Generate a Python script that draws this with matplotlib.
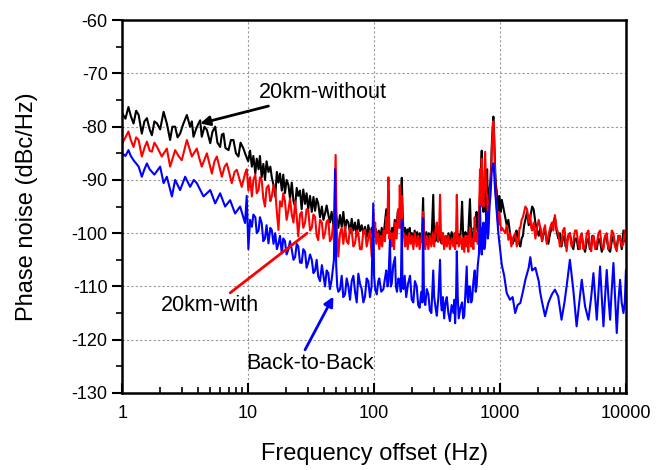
import numpy as np
import matplotlib.pyplot as plt
from matplotlib.ticker import MultipleLocator, LogLocator, NullFormatter

plt.rcParams['font.family'] = ['Liberation Sans', 'DejaVu Sans']
plt.rcParams['axes.unicode_minus'] = False

# values: (frequency offset Hz, phase noise dBc/Hz)
# 20km-without (black)
without_1_10 = [(1.0, -77.5), (1.06, -78.5), (1.12, -76.3), (1.17, -78.0), (1.23, -79.4), (1.29, -77.0),
                (1.35, -77.8), (1.43, -81.3), (1.5, -79.0), (1.57, -78.4), (1.65, -80.5), (1.72, -81.6),
                (1.8, -79.0), (1.89, -79.4), (2.0, -80.5), (2.13, -77.2), (2.26, -79.4), (2.4, -82.5),
                (2.5, -80.0), (2.63, -80.0), (2.75, -82.0), (2.88, -81.3), (3.05, -79.5), (3.26, -77.8),
                (3.46, -80.0), (3.57, -79.0), (3.68, -81.9), (3.85, -80.5), (4.03, -79.4), (4.16, -78.8),
                (4.28, -81.9), (4.5, -80.0), (4.7, -80.6), (5.0, -83.1), (5.2, -81.0), (5.47, -80.0),
                (5.7, -83.0), (5.99, -83.8), (6.18, -81.5), (6.37, -81.3), (6.6, -84.0), (6.98, -84.4),
                (7.3, -82.5), (7.64, -82.5), (8.0, -85.0), (8.37, -85.6), (8.7, -83.0), (9.17, -84.1),
                (9.45, -85.0)]
without_10_100 = [(10.0, -86.5), (10.35, -84.5), (10.7, -87.5), (11.0, -85.5), (11.4, -88.8), (11.7, -86.0),
                  (12.1, -88.0), (12.4, -85.5), (12.8, -89.5), (13.2, -87.0), (13.6, -90.0), (14.0, -86.5),
                  (14.5, -88.5), (15.0, -87.5), (15.4, -89.5), (15.9, -91.0), (16.4, -93.1), (16.9, -88.5),
                  (17.4, -90.5), (17.9, -88.8), (18.5, -92.0), (19.0, -89.0), (19.6, -92.5), (20.2, -90.0),
                  (20.9, -91.0), (21.5, -93.5), (22.2, -90.5), (22.9, -94.0), (23.6, -95.0), (24.3, -91.5),
                  (25, -93.0), (25.8, -92.0), (26.6, -95.5), (27.4, -91.8), (28.3, -94.5), (29.1, -92.5),
                  (30, -95.5), (31, -93.0), (32, -96.0), (33, -93.2), (34, -95.8), (35, -93.5), (36, -94.4),
                  (37.2, -97.0), (38.5, -95.0), (39.6, -97.5), (40.8, -96.3), (42, -94.8), (43.3, -96.5),
                  (44.6, -98.0), (46, -96.0), (47.5, -98.5), (49, -95.5), (50.5, -97.2), (52, -99.0),
                  (53.6, -96.6), (55.3, -98.8), (57, -96.0), (58.8, -99.4), (60.6, -97.5), (62.5, -98.0),
                  (64.4, -100.0), (66.4, -97.3), (68.5, -99.5), (70.6, -98.0), (72.8, -100.5), (75, -97.5),
                  (77.3, -99.6), (79.7, -98.5), (82.2, -100.2), (84.7, -98.8), (87.3, -100.8), (90, -98.5),
                  (92.8, -100.5), (95.7, -99.0), (98.5, -100.2)]
without_100_1000 = [(100, -100.5), (103, -99.2), (106, -101.0), (109, -99.5), (112, -101.2), (115, -99.0),
                    (118.6, -100.8), (122, -98.0), (125, -95.5), (128, -99.0), (130, -92.0), (132, -99.5),
                    (136, -100.8), (139, -99.0), (142, -101.0), (146, -97.5), (150, -100.0), (154, -96.0),
                    (158, -98.5), (162, -95.0), (166, -89.6), (169, -97.0), (172, -100.5), (176, -99.0),
                    (180, -101.0), (184, -99.3), (188, -100.8), (192, -99.0), (196, -101.3), (200, -100.0),
                    (205, -101.5), (210, -99.5), (215, -101.2), (220, -99.8), (225, -101.5), (231, -100.0),
                    (237, -101.6), (241, -99.5), (245, -93.4), (249, -100.5), (255, -101.5), (260, -99.8),
                    (265, -101.5), (272, -100.0), (280, -101.3), (288, -99.5), (295, -92.8), (300, -100.6),
                    (308, -101.5), (315, -99.8), (322, -101.6), (330, -100.2), (340, -101.8), (350, -100.0),
                    (360, -102.0), (370, -100.5), (380, -101.6), (390, -100.0), (400, -101.5), (413, -99.8),
                    (427, -101.4), (440, -100.0), (454, -101.9), (467, -100.2), (480, -101.5), (490, -99.0),
                    (500, -94.1), (510, -100.5), (520, -101.6), (532, -99.8), (544, -101.0), (560, -100.0),
                    (577, -93.6), (590, -100.5), (605, -101.2), (618, -99.0), (630, -100.5), (642, -97.0),
                    (652, -96.0), (665, -100.0), (680, -99.0), (690, -94.0), (700, -90.0), (716, -84.5),
                    (728, -94.0), (740, -96.0), (752, -91.0), (762, -92.0), (775, -97.0), (790, -88.0),
                    (800, -94.0), (810, -96.0), (825, -92.0), (840, -90.0), (852, -87.0), (862, -83.0),
                    (875, -80.0), (886, -78.1), (895, -80.5), (905, -84.0), (915, -88.0), (928, -91.0),
                    (941, -92.0), (955, -95.0), (970, -96.0), (985, -93.0), (1000, -94.0), (1015, -96.0),
                    (1034, -93.75)]
without_1000_10000 = [(1080, -96.0), (1131, -98.5), (1165, -97.5), (1200, -100.0), (1230, -101.5), (1260, -102.0),
                      (1290, -100.5), (1320, -101.5), (1350, -99.5), (1380, -100.0), (1415, -101.8), (1450, -102.5),
                      (1485, -101.0), (1520, -100.5), (1555, -98.5), (1590, -97.5), (1640, -96.0), (1690, -98.5),
                      (1740, -97.0), (1800, -95.0), (1850, -95.5), (1910, -98.0), (1970, -99.5), (2030, -100.5),
                      (2090, -99.0), (2160, -101.5), (2220, -100.0), (2280, -99.5), (2350, -101.5), (2420, -102.0),
                      (2500, -100.0), (2580, -99.0), (2650, -98.0), (2730, -97.0), (2810, -99.5), (2900, -101.0),
                      (2990, -100.0), (3080, -102.5), (3160, -101.0), (3250, -100.5), (3320, -102.5), (3380, -102.0),
                      (3480, -100.5), (3590, -100.0), (3700, -102.0), (3820, -103.0), (3940, -101.0), (4060, -101.0),
                      (4180, -103.0), (4300, -102.5), (4380, -100.5), (4460, -100.5), (4600, -102.5), (4740, -103.5),
                      (4890, -101.5), (5040, -101.0), (5170, -103.0), (5300, -102.5), (5410, -100.5), (5520, -100.5),
                      (5700, -102.5), (5870, -103.0), (6050, -101.0), (6230, -101.5), (6430, -103.5), (6630, -102.5),
                      (6830, -100.5), (7040, -101.0), (7260, -103.0), (7490, -103.5), (7720, -101.5), (7960, -100.5),
                      (8200, -102.5), (8460, -102.5), (8720, -100.5), (8990, -101.0), (9270, -103.0), (9560, -99.5),
                      (9780, -101.5), (10000, -101.5)]

# 20km-with (red)
with_1_10 = [(1.0, -83.1), (1.06, -82.0), (1.12, -80.9), (1.17, -82.5), (1.23, -83.8), (1.29, -82.0),
             (1.35, -82.5), (1.43, -85.6), (1.5, -84.0), (1.57, -82.8), (1.65, -84.5), (1.72, -84.7),
             (1.8, -83.0), (1.89, -83.8), (2.06, -85.6), (2.26, -84.1), (2.4, -87.5), (2.63, -84.4),
             (2.8, -85.5), (2.97, -86.3), (3.26, -82.5), (3.57, -85.6), (3.91, -84.1), (4.1, -86.0),
             (4.28, -87.5), (4.7, -85.0), (5.15, -88.8), (5.4, -86.5), (5.64, -85.6), (6.18, -89.4),
             (6.5, -87.5), (6.77, -86.9), (7.41, -90.6), (7.8, -88.5), (8.12, -88.1), (8.89, -91.3),
             (9.45, -88.8)]
with_10_100 = [(9.74, -88.0), (10.04, -92.0), (10.35, -89.5), (10.7, -93.1), (11.0, -90.0), (11.4, -89.0),
               (11.7, -92.5), (12.1, -91.9), (12.4, -89.5), (12.8, -90.0), (13.2, -93.5), (13.6, -95.0),
               (14.0, -91.5), (14.5, -91.0), (15.0, -94.0), (15.4, -93.1), (15.9, -91.0), (16.4, -92.0),
               (16.9, -96.0), (17.4, -99.4), (17.9, -94.0), (18.5, -95.0), (19.0, -92.5), (19.6, -94.0),
               (20.2, -97.5), (20.9, -95.6), (21.5, -93.5), (22.2, -96.5), (22.9, -98.0), (23.6, -94.0),
               (24.3, -97.0), (25, -100.6), (25.8, -96.5), (26.6, -96.0), (27.4, -99.0), (28.3, -98.0),
               (29.1, -95.5), (30, -95.6), (31, -99.5), (32, -99.0), (33, -96.5), (34, -97.0), (35, -100.5),
               (36, -101.3), (37.2, -97.5), (38.5, -98.0), (39.6, -101.0), (40.8, -100.0), (42, -97.8),
               (43.3, -97.5), (44.6, -101.5), (46, -101.0), (47.2, -98.5), (48, -99.0), (49.5, -85.3),
               (50.5, -99.0), (51.3, -102.0), (52, -104.4), (53.6, -100.0), (55.3, -99.0), (57, -102.0),
               (58.8, -98.8), (60.6, -101.5), (62.5, -102.0), (64.4, -99.0), (66.4, -99.5), (68.5, -102.5),
               (70.6, -101.9), (72.8, -99.5), (75, -100.0), (77.3, -103.0), (79.7, -103.0), (82.2, -99.5),
               (84.7, -99.4), (87.3, -102.5), (90, -101.0), (92.8, -99.5), (95.7, -104.4), (97.5, -101.0),
               (98.5, -96.0)]
with_100_1000 = [(100, -100.5), (102, -98.0), (104, -102.0), (107, -100.0), (110, -103.0), (113, -100.5),
                 (116, -102.5), (119, -99.5), (122, -101.5), (125, -97.0), (127, -100.0), (130, -89.5),
                 (132, -101.0), (135, -100.0), (138, -102.5), (141, -100.0), (144, -103.0), (147, -98.0),
                 (151, -101.0), (155, -95.5), (158, -99.0), (160, -91.0), (163, -99.0), (166, -93.0),
                 (169, -100.5), (172, -100.0), (176, -102.5), (180, -100.5), (185, -103.0), (190, -100.0),
                 (195, -102.0), (200, -100.5), (205, -103.0), (211, -100.0), (218, -102.5), (224, -100.5),
                 (230, -103.0), (237, -101.0), (242, -99.5), (245, -96.0), (250, -101.0), (255, -103.0),
                 (262, -100.5), (270, -103.0), (277, -100.5), (285, -102.5), (292, -100.0), (300, -102.5),
                 (307, -99.5), (315, -98.0), (322, -101.5), (328, -100.0), (334, -92.8), (340, -100.5),
                 (345, -102.0), (352, -100.0), (360, -103.0), (369, -100.5), (378, -102.5), (389, -100.5),
                 (400, -103.0), (413, -101.0), (427, -102.5), (434, -100.0), (440, -103.0), (447, -101.0),
                 (454, -92.8), (462, -101.0), (470, -102.5), (485, -100.5), (500, -103.0), (510, -101.0),
                 (520, -103.5), (532, -100.5), (544, -102.5), (552, -100.5), (560, -103.5), (568, -101.0),
                 (577, -99.0), (590, -102.5), (600, -101.0), (615, -103.0), (630, -97.0), (641, -101.5),
                 (652, -100.0), (666, -102.0), (680, -98.0), (687, -93.0), (694, -88.0), (705, -95.0),
                 (716, -86.0), (728, -93.0), (740, -95.0), (750, -90.0), (762, -84.7), (776, -92.0),
                 (790, -93.0), (800, -97.0), (810, -98.0), (825, -94.0), (840, -91.0), (852, -88.0),
                 (862, -84.0), (875, -81.0), (886, -79.0), (895, -81.0), (905, -85.0), (915, -90.0),
                 (928, -93.0), (941, -95.0), (955, -97.0), (970, -98.5), (985, -96.0), (1000, -97.0),
                 (1020, -99.5), (1040, -99.0)]
with_1000_10000 = [(1100, -100.0), (1130, -98.5), (1165, -101.25), (1200, -100.0), (1230, -102.5), (1270, -101.0),
                   (1320, -100.0), (1360, -102.5), (1400, -101.5), (1430, -99.0), (1450, -99.0), (1485, -97.5),
                   (1520, -97.0), (1555, -96.0), (1590, -95.0), (1640, -95.5), (1690, -98.0), (1740, -96.5),
                   (1770, -99.0), (1800, -99.5), (1850, -98.0), (1910, -101.0), (1970, -99.0), (2030, -97.5),
                   (2090, -99.0), (2160, -101.5), (2220, -99.5), (2280, -98.5), (2350, -102.0), (2420, -100.5),
                   (2500, -99.0), (2580, -98.0), (2650, -99.5), (2730, -96.6), (2810, -99.0), (2900, -100.0),
                   (2990, -102.5), (3080, -102.0), (3160, -99.5), (3250, -99.0), (3320, -101.5), (3380, -103.4),
                   (3480, -100.5), (3590, -100.0), (3700, -102.5), (3820, -101.5), (3940, -99.5), (4060, -99.5),
                   (4180, -102.0), (4300, -103.0), (4380, -100.5), (4460, -100.0), (4600, -103.0), (4740, -102.5),
                   (4890, -100.0), (5040, -99.5), (5170, -102.5), (5300, -103.4), (5410, -101.0), (5520, -100.5),
                   (5700, -103.0), (5870, -102.0), (6050, -100.0), (6230, -99.5), (6430, -102.5), (6630, -103.0),
                   (6830, -100.5), (7040, -100.0), (7260, -103.0), (7490, -102.5), (7720, -99.5), (7960, -100.0),
                   (8200, -102.5), (8460, -103.4), (8720, -100.5), (8990, -100.5), (9270, -102.5), (9560, -102.0),
                   (9780, -99.5), (10000, -100.0)]

# Back-to-Back (blue)
b2b_1_10 = [(1.0, -85.0), (1.06, -85.5), (1.12, -84.4), (1.17, -85.5), (1.23, -86.3), (1.35, -87.5),
            (1.43, -89.4), (1.5, -88.0), (1.57, -86.9), (1.65, -88.0), (1.8, -89.0), (2.0, -87.5),
            (2.13, -90.6), (2.26, -89.4), (2.48, -93.1), (2.63, -90.0), (2.88, -91.9), (3.16, -89.4),
            (3.46, -91.3), (3.7, -90.0), (3.91, -90.6), (4.42, -93.1), (5.0, -91.9), (5.47, -94.4),
            (5.99, -92.5), (6.56, -95.0), (7.19, -93.8), (7.87, -96.3), (8.63, -95.0), (9.45, -98.1)]
b2b_10_100 = [(9.74, -93.0), (10.04, -103.0), (10.35, -97.5), (10.7, -98.8), (11.0, -96.5), (11.4, -97.0),
              (11.7, -100.0), (12.1, -99.5), (12.4, -97.0), (12.8, -98.1), (13.2, -101.5), (13.6, -101.0),
              (14.0, -98.5), (14.5, -101.9), (15.0, -99.0), (15.4, -99.4), (15.9, -102.0), (16.4, -100.0),
              (16.9, -103.0), (17.4, -102.0), (17.9, -100.5), (18.5, -103.8), (19.0, -101.0), (19.6, -101.5),
              (20.2, -104.0), (20.9, -103.0), (21.5, -101.5), (22.2, -103.1), (22.9, -105.0), (23.6, -104.5),
              (24.3, -102.0), (25, -102.5), (25.8, -105.5), (26.6, -105.6), (27.4, -103.0), (28.3, -103.5),
              (29.1, -106.5), (30, -105.5), (31, -104.0), (32, -105.0), (33, -107.5), (34, -107.0),
              (35, -105.0), (36, -108.1), (37.2, -109.0), (38.5, -106.0), (39.6, -108.0), (40.8, -110.0),
              (42, -107.0), (43.3, -107.5), (44.6, -110.5), (46, -108.8), (47.2, -106.5), (48, -105.0),
              (49, -88.0), (50, -106.0), (51, -110.0), (52, -111.0), (53.6, -110.6), (55.3, -108.0),
              (57, -112.0), (58.8, -111.5), (60.6, -108.5), (62.5, -110.0), (64.4, -112.5), (66.4, -109.0),
              (68.5, -108.0), (70.6, -111.0), (72.8, -113.0), (75, -107.6), (77.3, -109.5), (79.7, -110.5),
              (82.2, -113.0), (84.7, -111.9), (87.3, -108.5), (90, -109.0), (92.8, -112.0), (95.5, -110.0)]
b2b_100_1000 = [(98.5, -94.4), (100, -108.0), (102, -110.5), (105, -111.5), (108, -109.0), (110, -108.5),
                (114, -111.0), (118.6, -110.5), (122, -108.5), (125, -107.0), (128, -110.0), (130, -109.0),
                (133.6, -101.25), (136, -110.0), (138, -109.5), (142, -106.0), (146.7, -104.5), (149, -110.0),
                (152, -111.0), (156, -108.5), (160, -109.0), (163, -111.0), (166, -97.5), (168, -110.0),
                (171, -110.5), (175, -108.0), (180, -112.0), (186, -109.5), (193, -108.0), (199, -112.5),
                (205, -113.0), (211, -109.0), (218, -110.0), (224, -113.5), (230, -114.0), (237, -111.0),
                (242, -113.0), (245, -97.2), (249, -112.0), (255, -113.5), (262, -110.5), (270, -111.5),
                (277, -114.5), (285, -115.0), (290, -111.0), (295, -107.0), (300, -112.0), (308, -114.0),
                (315, -115.5), (324, -112.0), (334, -105.0), (340, -113.0), (345, -114.5), (352, -112.0),
                (360, -116.0), (369, -113.0), (378, -112.0), (389, -115.0), (400, -116.5), (413, -113.5),
                (427, -115.0), (434, -112.5), (440, -116.9), (447, -113.0), (454, -103.4), (462, -112.0),
                (470, -116.0), (485, -114.0), (500, -113.0), (510, -116.0), (520, -115.5), (532, -111.0),
                (544, -106.25), (552, -112.0), (560, -113.0), (568, -110.0), (577, -110.0), (590, -113.0),
                (600, -112.5), (615, -109.0), (630, -107.0), (641, -111.0), (652, -110.0), (666, -106.0),
                (680, -104.0), (687, -99.0), (694, -95.0), (705, -102.0), (716, -104.0), (728, -99.0),
                (740, -98.0), (750, -103.0), (762, -102.0), (776, -97.0), (790, -96.0), (800, -101.0),
                (810, -100.0), (825, -95.0), (840, -93.0), (852, -90.0), (862, -88.0), (875, -87.5),
                (886, -86.9), (895, -88.0), (905, -90.0), (915, -92.0)]
b2b_1000_10000 = [(970, -100.0), (1034, -106.0), (1080, -108.0), (1131, -111.25), (1200, -112.5), (1260, -112.0),
                  (1320, -115.0), (1380, -113.5), (1450, -113.1), (1520, -111.0), (1590, -108.75), (1690, -106.5),
                  (1740, -104.5), (1800, -107.0), (1910, -106.5), (2030, -109.0), (2090, -111.25), (2160, -113.0),
                  (2280, -115.6), (2420, -113.1), (2580, -111.5), (2730, -110.6), (2900, -111.9), (3080, -116.25),
                  (3250, -113.0), (3380, -110.0), (3590, -105.0), (3820, -110.6), (4060, -117.5), (4260, -113.0),
                  (4460, -108.75), (4740, -113.75), (5040, -116.25), (5300, -112.0), (5520, -107.5), (5700, -112.0),
                  (5870, -116.25), (6050, -111.0), (6230, -106.25), (6430, -112.0), (6630, -117.5), (6830, -112.0),
                  (7040, -106.9), (7260, -112.0), (7490, -116.25), (7700, -111.0), (7960, -105.6), (8200, -112.0),
                  (8460, -118.75), (8700, -113.0), (8990, -108.75), (9250, -113.0), (9560, -115.0), (9800, -113.0),
                  (10000, -107.0)]

f_without, pn_without = zip(*(without_1_10 + without_10_100 + without_100_1000 + without_1000_10000))
f_with, pn_with = zip(*(with_1_10 + with_10_100 + with_100_1000 + with_1000_10000))
f_b2b, pn_b2b = zip(*(b2b_1_10 + b2b_10_100 + b2b_100_1000 + b2b_1000_10000))

fig = plt.figure(figsize=(6.68, 4.70), dpi=100)
ax = fig.add_axes([0.183, 0.164, 0.754, 0.793])

ax.semilogx(f_without, pn_without, color='black', lw=1.5)
ax.semilogx(f_with, pn_with, color='red', lw=1.5)
ax.semilogx(f_b2b, pn_b2b, color='blue', lw=1.5)

ax.set_xlim(1, 10000)
ax.set_ylim(-130, -60)
ax.yaxis.set_major_locator(MultipleLocator(10))
ax.yaxis.set_minor_locator(MultipleLocator(5))
ax.xaxis.set_minor_locator(LogLocator(base=10, subs=np.arange(2, 10)))
ax.xaxis.set_minor_formatter(NullFormatter())
ax.set_xticks([1, 10, 100, 1000, 10000])
ax.set_xticklabels(['1', '10', '100', '1000', '10000'])

ax.grid(True, which='major', color='#999999', linestyle=(0, (2, 2)), lw=0.8)
ax.tick_params(axis='x', which='major', direction='in', length=7, width=1.5, labelsize=13, pad=9)
ax.tick_params(axis='x', which='minor', direction='in', length=4, width=1.2)
ax.tick_params(axis='y', which='major', direction='out', length=7, width=1.5, labelsize=13)
ax.tick_params(axis='y', which='minor', direction='out', length=4, width=1.2)
for s in ax.spines.values():
    s.set_linewidth(1.8)

ax.set_xlabel('Frequency offset (Hz)', fontsize=17, labelpad=15)
ax.set_ylabel('Phase noise (dBc/Hz)', fontsize=17, labelpad=24)

ax.annotate('20km-without', xy=(4.16, -79.4), xytext=(12.2, -73.5), fontsize=15.5,
            va='center', ha='left',
            arrowprops=dict(arrowstyle='-|>', color='black', lw=2, mutation_scale=14, shrinkA=2, shrinkB=0))
ax.annotate('', xy=(29.4, -100), xytext=(7.2, -111.2),
            arrowprops=dict(arrowstyle='-', color='red', lw=2, shrinkA=0, shrinkB=0))
ax.text(5.0, -113.5, '20km-with', fontsize=15.5, ha='center', va='center')
ax.annotate('', xy=(47.5, -111.9), xytext=(28.3, -121.9),
            arrowprops=dict(arrowstyle='-|>', color='blue', lw=2, mutation_scale=14, shrinkA=0, shrinkB=0))
ax.text(31, -124.4, 'Back-to-Back', fontsize=15.5, ha='center', va='center')

fig.savefig('out.png', dpi=100)
